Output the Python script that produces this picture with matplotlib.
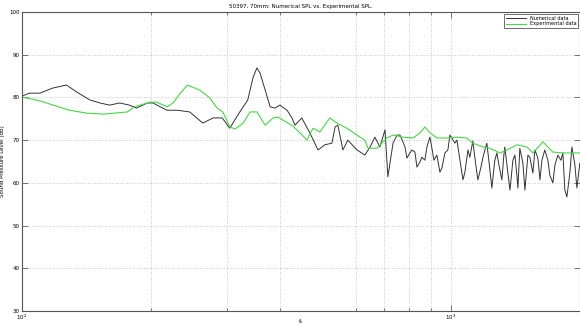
import matplotlib
matplotlib.use("Agg")
import matplotlib.pyplot as plt
from matplotlib.ticker import FixedLocator, NullFormatter, FixedFormatter

# numerical SPL (black)
freq_num = [100, 104, 110, 118, 127, 134, 144, 152, 160, 169, 178, 185, 196, 202,
            210, 218, 230, 246, 264, 279, 293, 305, 322, 336, 346, 353, 359, 369,
            379, 389, 399, 415, 426, 433, 449, 469, 490, 508, 528, 537, 545, 560,
            575, 604, 630, 648, 665, 683, 702, 713, 733, 749,
            760.6, 772.9, 781.4, 789.8, 802.5, 811.3, 824.5, 833.3, 846.8, 855.9,
            869.7, 879.2, 893.5, 903.1, 912.8, 927.6, 942.7, 952.9, 968.3, 984.0,
            994.7, 1005, 1022, 1033, 1050, 1067, 1078, 1096, 1107, 1125,
            1143, 1156, 1174, 1187, 1200, 1213, 1233, 1246, 1266, 1280,
            1294, 1315, 1329, 1336, 1358, 1373, 1395, 1410, 1425, 1433,
            1448, 1472, 1488, 1512, 1528, 1553, 1570, 1595, 1613, 1630,
            1656, 1683, 1701, 1729, 1748, 1776, 1805, 1824, 1844, 1864,
            1894, 1915, 1946, 1967, 1998]
spl_num = [80.3, 81.0, 81.0, 82.2, 82.9, 81.3, 79.4, 78.7, 78.2, 78.7, 78.2, 77.5, 78.7, 78.7,
           77.8, 77.0, 77.0, 76.6, 74.0, 75.2, 75.2, 72.8, 76.6, 79.4, 84.8, 86.9, 85.7, 81.7,
           77.8, 77.5, 78.2, 77.0, 75.2, 73.5, 75.2, 71.7, 67.7, 68.9, 69.3, 73.1, 73.5, 67.7,
           70.0, 67.7, 66.5, 68.4, 70.7, 68.4, 72.4, 61.4, 69.3, 71.2,
           71.2, 69.6, 68.4, 65.8, 67.0, 67.7, 67.2, 63.7, 64.9, 66.0,
           65.3, 68.4, 70.7, 68.1, 65.3, 66.5, 62.5, 63.5, 67.0, 67.7,
           71.2, 70.5, 69.3, 70.0, 65.3, 60.7, 62.5, 67.7, 66.0, 69.8,
           64.2, 60.7, 63.5, 65.8, 67.7, 69.3, 63.0, 58.8, 65.3, 67.0,
           64.2, 60.7, 66.5, 68.4, 62.3, 58.3, 65.3, 66.5, 61.8, 58.8,
           68.1, 64.6, 58.3, 66.5, 66.0, 62.3, 67.7, 65.8, 60.7, 65.3,
           67.7, 65.3, 61.8, 60.0, 64.2, 66.5, 65.3, 67.0, 58.3, 56.7,
           62.3, 68.4, 64.2, 58.8, 64.6]

# experimental SPL (green)
freq_exp = [100, 110, 129, 142, 155, 176, 183, 199, 206, 218, 225, 234, 243, 260, 274,
            285, 294, 305, 314, 328, 340, 353, 369, 385, 395, 406, 428, 445, 462, 477,
            495, 522, 542, 572, 604, 630, 641, 672, 709, 733, 773, 816, 847, 870, 894,
            928, 979, 1033, 1090, 1125, 1187, 1233, 1301, 1351, 1425, 1504, 1553, 1639,
            1729, 1824, 1998]
spl_exp = [80.1, 79.2, 77.0, 76.3, 76.1, 76.6, 77.8, 78.9, 78.9, 77.8, 78.7, 81.0, 82.9, 81.7, 79.9,
           77.5, 76.6, 73.1, 72.6, 74.0, 76.6, 76.6, 73.5, 75.2, 75.4, 74.7, 73.3, 71.7, 70.0, 72.8,
           71.9, 75.2, 74.0, 72.8, 71.2, 70.0, 68.1, 68.1, 70.5, 71.2, 70.7, 70.5, 71.7, 73.1, 71.7,
           70.5, 70.5, 70.7, 70.5, 69.3, 68.4, 68.1, 67.0, 67.7, 68.9, 68.4, 67.0, 69.6,
           67.2, 67.0, 67.0]

x_major = [100, 1000]
x_major_labels = ["10$^2$", "10$^3$"]
x_minor = [200, 300, 400, 600, 700, 800, 900, 2000]
y_ticks = [30, 40, 50, 60, 70, 80, 90, 100]

fig = plt.figure(figsize=(5.8, 3.25), dpi=100)
ax = fig.add_axes([22 / 580, 1 - 311 / 325, 558 / 580, 299 / 325])

ax.semilogx(freq_num, spl_num, color="#333333", lw=0.7, label="Numerical data")
ax.semilogx(freq_exp, spl_exp, color="#44d844", lw=0.8, label="Experimental data")

ax.set_xlim(100, 2000)
ax.set_ylim(30, 100)
ax.set_yticks(y_ticks)
ax.xaxis.set_major_locator(FixedLocator(x_major))
ax.xaxis.set_major_formatter(FixedFormatter(x_major_labels))
ax.xaxis.set_minor_locator(FixedLocator(x_minor))
ax.xaxis.set_minor_formatter(NullFormatter())

ax.grid(True, which="both", color="#999999", linestyle=(0, (1, 2.5)), lw=0.5)
ax.tick_params(which="both", direction="in", top=True, right=True,
               labelsize=4, pad=1.5, width=0.5, color="#444444")
ax.tick_params(which="major", length=4)
ax.tick_params(which="minor", length=2)
for s in ax.spines.values():
    s.set_color("#555555")
    s.set_linewidth(0.8)

ax.set_title("50397, 70mm: Numerical SPL vs. Experimental SPL.", fontsize=4, pad=3)
ax.set_xlabel("f$_o$", fontsize=4)
ax.xaxis.set_label_coords(0.5, -0.02)
ax.set_ylabel("Sound Pressure Level (dB)", fontsize=4, labelpad=3)

leg = ax.legend(loc="upper right", fontsize=3.6, frameon=True, fancybox=False,
                borderaxespad=0.4, handlelength=4, borderpad=0.3, labelspacing=0.2)
leg.get_frame().set_edgecolor("black")
leg.get_frame().set_linewidth(0.5)

fig.savefig("out.png", dpi=100)
